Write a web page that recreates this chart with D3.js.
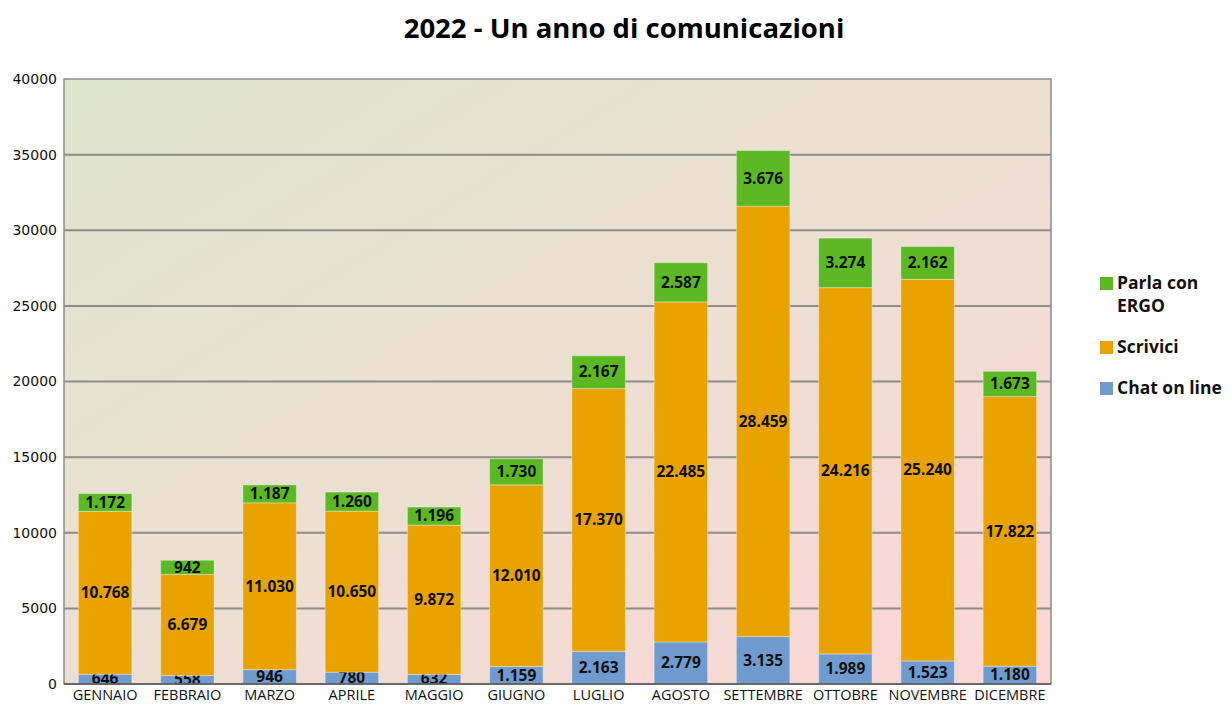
<!DOCTYPE html>
<html>
<head>
<meta charset="utf-8">
<script src="https://cdn.jsdelivr.net/npm/d3@7"></script>
<style>
  body { margin: 0; background: #fff; }
  text { font-family: "Open Sans", sans-serif; }
</style>
</head>
<body>
<script>
var months = ["GENNAIO", "FEBBRAIO", "MARZO", "APRILE", "MAGGIO", "GIUGNO", "LUGLIO", "AGOSTO", "SETTEMBRE", "OTTOBRE", "NOVEMBRE", "DICEMBRE"];
var chatOnLine = [646, 558, 946, 780, 632, 1159, 2163, 2779, 3135, 1989, 1523, 1180];
var scrivici = [10768, 6679, 11030, 10650, 9872, 12010, 17370, 22485, 28459, 24216, 25240, 17822];
var parlaConErgo = [1172, 942, 1187, 1260, 1196, 1730, 2167, 2587, 3676, 3274, 2162, 1673];
var seriesNames = ["Chat on line", "Scrivici", "Parla con ERGO"];
var seriesColors = ["#6f9bcf", "#e8a202", "#5cb923"];
var yTicks = [0, 5000, 10000, 15000, 20000, 25000, 30000, 35000, 40000];

var width = 1231, height = 704;
var margin = { top: 79, right: 180, bottom: 20, left: 64 };

var svg = d3.select("body")
    .append("svg")
    .attr("width", width)
    .attr("height", height);

// title
svg.append("text")
    .attr("x", 624)
    .attr("y", 38)
    .attr("text-anchor", "middle")
    .style("font-size", "27.5px")
    .style("font-weight", "bold")
    .text("2022 - Un anno di comunicazioni");

var plotW = 1051 - margin.left;
var plotH = 684 - margin.top;

var g = svg.append("g")
    .attr("transform", "translate(" + margin.left + "," + margin.top + ")");

// background gradient
var defs = svg.append("defs");
var grad = defs.append("linearGradient")
    .attr("id", "bg")
    .attr("x1", "0").attr("y1", "0")
    .attr("x2", "1").attr("y2", "1");
grad.append("stop").attr("offset", "0%").attr("stop-color", "#dee5cb");
grad.append("stop").attr("offset", "50%").attr("stop-color", "#ecdfd2");
grad.append("stop").attr("offset", "100%").attr("stop-color", "#fcd6d6");

g.append("rect")
    .attr("width", plotW)
    .attr("height", plotH)
    .attr("fill", "url(#bg)");

var x = d3.scaleBand()
    .domain(months)
    .range([0, plotW])
    .paddingInner(0.35)
    .paddingOuter(0.175);

var y = d3.scaleLinear()
    .domain([0, 40000])
    .range([plotH, 0]);

// gridlines
g.selectAll(".grid")
    .data(yTicks.slice(1, -1))
    .enter()
    .append("line")
    .attr("x1", 0)
    .attr("x2", plotW)
    .attr("y1", function (d) { return y(d); })
    .attr("y2", function (d) { return y(d); })
    .attr("stroke", "#8c8c8c")
    .attr("stroke-width", 2);

// y axis labels
var yAxis = g.append("g")
    .call(d3.axisLeft(y).tickValues(yTicks).tickSize(0).tickPadding(7).tickFormat(d3.format("d")));
yAxis.select(".domain").remove();
yAxis.selectAll("text")
    .style("font-family", "'DejaVu Sans', sans-serif")
    .style("font-size", "14px")
    .attr("fill", "#111");

// x axis labels
var xAxis = g.append("g")
    .attr("transform", "translate(0," + plotH + ")")
    .call(d3.axisBottom(x).tickSize(0).tickPadding(6));
xAxis.select(".domain").remove();
xAxis.selectAll("text")
    .style("font-size", "14.5px")
    .attr("fill", "#111");

// stacked data
var rows = months.map(function (m, i) {
    return { month: m, "Chat on line": chatOnLine[i], "Scrivici": scrivici[i], "Parla con ERGO": parlaConErgo[i] };
});
var stacked = d3.stack().keys(seriesNames)(rows);

var it = d3.formatLocale({ decimal: ",", thousands: ".", grouping: [3], currency: ["€", ""] });
var fmt = it.format(",d");

var layers = g.selectAll(".layer")
    .data(stacked)
    .enter()
    .append("g")
    .attr("fill", function (d, i) { return seriesColors[i]; });

layers.selectAll("rect")
    .data(function (d) { return d; })
    .enter()
    .append("rect")
    .attr("x", function (d) { return x(d.data.month); })
    .attr("y", function (d) { return y(d[1]); })
    .attr("width", x.bandwidth())
    .attr("height", function (d) { return y(d[0]) - y(d[1]); })
    .attr("stroke", "rgba(255,255,255,0.35)")
    .attr("stroke-width", 1);

layers.selectAll("text")
    .data(function (d) { return d; })
    .enter()
    .append("text")
    .attr("x", function (d) { return x(d.data.month) + x.bandwidth() / 2; })
    .attr("y", function (d) { return (y(d[0]) + y(d[1])) / 2; })
    .attr("dy", "0.34em")
    .attr("text-anchor", "middle")
    .attr("fill", "#111")
    .style("font-size", "15.5px")
    .style("font-weight", "bold")
    .text(function (d) { return fmt(d[1] - d[0]); });

// plot border
g.append("rect")
    .attr("width", plotW)
    .attr("height", plotH)
    .attr("fill", "none")
    .attr("stroke", "#8c8c8c")
    .attr("stroke-width", 1.5);
g.append("line")
    .attr("x1", 0).attr("x2", plotW)
    .attr("y1", plotH).attr("y2", plotH)
    .attr("stroke", "#555")
    .attr("stroke-width", 1.5);

// legend
var legendItems = [
    { name: ["Parla con", "ERGO"], color: seriesColors[2], y: 283 },
    { name: ["Scrivici"], color: seriesColors[1], y: 347 },
    { name: ["Chat on line"], color: seriesColors[0], y: 388 }
];
var legend = svg.selectAll(".legend")
    .data(legendItems)
    .enter()
    .append("g");
legend.append("rect")
    .attr("x", 1100)
    .attr("y", function (d) { return d.y - 6; })
    .attr("width", 13)
    .attr("height", 13)
    .attr("fill", function (d) { return d.color; });
legend.selectAll("text")
    .data(function (d) { return d.name.map(function (n, i) { return { text: n, y: d.y + i * 23 }; }); })
    .enter()
    .append("text")
    .attr("x", 1117)
    .attr("y", function (d) { return d.y; })
    .attr("dy", "0.36em")
    .style("font-size", "17.5px")
    .style("font-weight", "bold")
    .attr("fill", "#111")
    .text(function (d) { return d.text; });
</script>
</body>
</html>
